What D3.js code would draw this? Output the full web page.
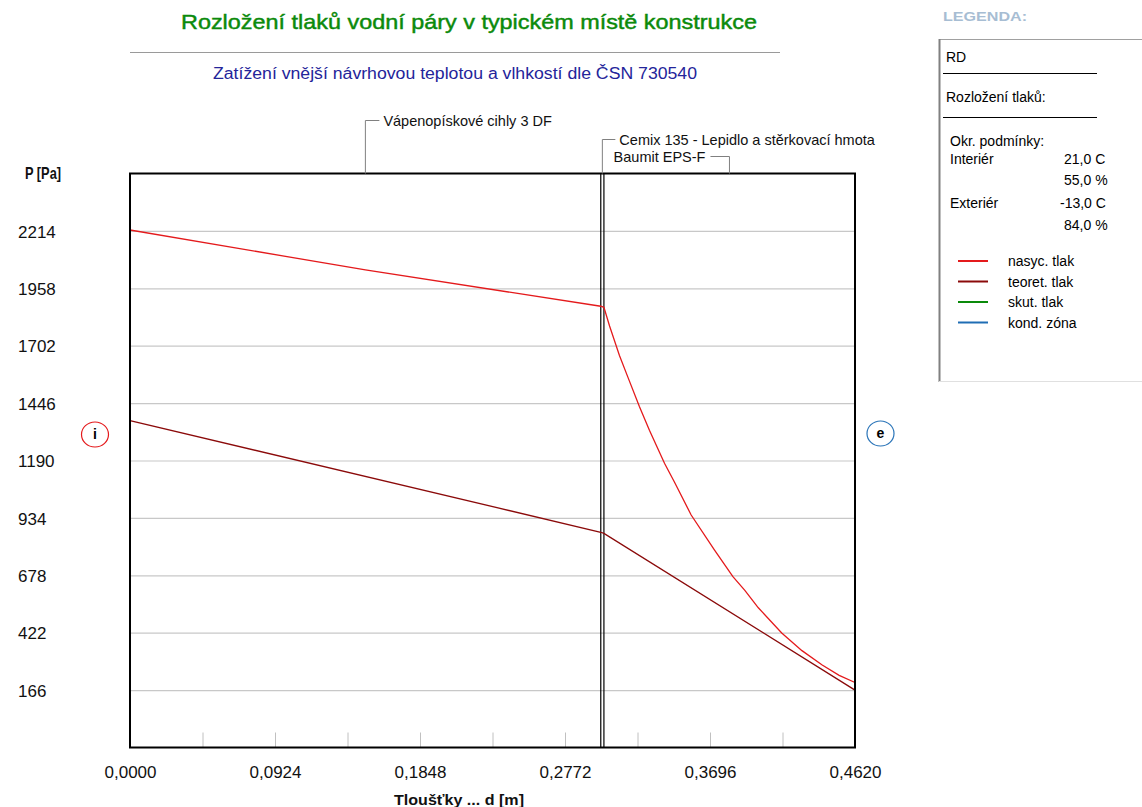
<!DOCTYPE html>
<html>
<head>
<meta charset="utf-8">
<script src="https://cdn.jsdelivr.net/npm/d3@7"></script>
<style>
  body { margin: 0; background: #fff; }
  svg { display: block; font-family: "Liberation Sans", Arial, sans-serif; }
  .narrow { font-family: "Liberation Sans Narrow", "Arial Narrow", "Liberation Sans", sans-serif; font-stretch: condensed; }
</style>
</head>
<body>
<svg id="chart" width="1142" height="807"></svg>
<script>
// Construction layers (thickness boundaries in metres)
const layerNames = ["Vápenopískové cihly 3 DF", "Cemix 135 - Lepidlo a stěrkovací hmota", "Baumit EPS-F"];
const layerEdges = [0, 0.300, 0.302, 0.462];

// Axis ticks
const pTicks = [166, 422, 678, 934, 1190, 1446, 1702, 1958, 2214];
const dTicks = [0, 0.0924, 0.1848, 0.2772, 0.3696, 0.4620];
const dMinor = [0.0462, 0.0924, 0.1386, 0.1848, 0.2310, 0.2772, 0.3234, 0.3696, 0.4158];

// Saturated vapour pressure profile (nasyc. tlak)
const satD = [0, 0.150, 0.300, 0.302, 0.3056, 0.3119, 0.3172, 0.3246, 0.3310, 0.3406, 0.3470,
              0.3576, 0.3725, 0.3842, 0.3918, 0.4004, 0.4153, 0.4282, 0.4411, 0.4519, 0.462];
const satP = [2218, 2040, 1878, 1873, 1790, 1658, 1563, 1431, 1325, 1178, 1093,
              947, 790, 672, 611, 533, 421, 342, 278, 232, 200];

// Theoretical partial vapour pressure profile (teoret. tlak)
const theoD = [0, 0.300, 0.302, 0.462];
const theoP = [1368, 870, 865, 166];

// Legend content
const legendHeader = ["RD", "Rozložení tlaků:"];
const condLabels = ["Interiér", "", "Exteriér", ""];
const condValues = ["21,0 C", "55,0 %", "-13,0 C", "84,0 %"];
const seriesNames = ["nasyc. tlak", "teoret. tlak", "skut. tlak", "kond. zóna"];
const seriesColors = ["#e41a1c", "#8b0a0a", "#0a8a0a", "#1f6db4"];

const svg = d3.select("#chart");

const plot = { left: 130, right: 855, top: 173.5, bottom: 747.5 };
const x = d3.scaleLinear().domain([0, 0.462]).range([plot.left, plot.right]);
const y = d3.scaleLinear().domain([-90, 2470]).range([plot.bottom, plot.top]);

// Titles
svg.append("text").attr("class", "narrow")
  .attr("x", 469).attr("y", 29).attr("text-anchor", "middle")
  .attr("font-size", 21).attr("fill", "#0b8a0b")
  .attr("stroke", "#0b8a0b").attr("stroke-width", 0.45)
  .attr("textLength", 576).attr("lengthAdjust", "spacingAndGlyphs")
  .text("Rozložení tlaků vodní páry v typickém místě konstrukce");
svg.append("line").attr("x1", 130).attr("x2", 780).attr("y1", 52.5).attr("y2", 52.5)
  .attr("stroke", "#9a9a9a").attr("stroke-width", 1);
svg.append("text").attr("class", "narrow")
  .attr("x", 455).attr("y", 79).attr("text-anchor", "middle")
  .attr("font-size", 16).attr("fill", "#24249a")
  .attr("textLength", 484).attr("lengthAdjust", "spacingAndGlyphs")
  .text("Zatížení vnější návrhovou teplotou a vlhkostí dle ČSN 730540");

// Horizontal grid + y labels
const yAxis = svg.append("g").attr("transform", `translate(${plot.left},0)`)
  .call(d3.axisLeft(y).tickValues(pTicks).tickSize(-(plot.right - plot.left)).tickFormat(d3.format("d")));
yAxis.select(".domain").remove();
yAxis.selectAll(".tick line").attr("stroke", "#c8c8c8").attr("stroke-width", 1.2);
yAxis.selectAll(".tick text").attr("text-anchor", "start").attr("x", 18 - plot.left).attr("dy", "0.36em")
  .attr("font-size", 17).attr("fill", "#111").attr("font-family", "'Liberation Sans', Arial, sans-serif");

// Minor ticks along the bottom edge
const minorAxis = svg.append("g").attr("transform", `translate(0,${plot.bottom})`)
  .call(d3.axisTop(x).tickValues(dMinor).tickSize(15).tickFormat(""));
minorAxis.select(".domain").remove();
minorAxis.selectAll(".tick line").attr("stroke", "#c0c0c0");

// X labels
const xAxis = svg.append("g").attr("transform", `translate(0,${plot.bottom})`)
  .call(d3.axisBottom(x).tickValues(dTicks).tickSize(0).tickPadding(18)
    .tickFormat(d => d3.format(".4f")(d).replace(".", ",")));
xAxis.select(".domain").remove();
xAxis.selectAll(".tick text").attr("font-size", 17).attr("fill", "#111")
  .attr("font-family", "'Liberation Sans', Arial, sans-serif");

// Axis titles
svg.append("text").attr("x", 25).attr("y", 179)
  .attr("font-size", 17).attr("font-weight", "bold").attr("fill", "#111")
  .attr("textLength", 36).attr("lengthAdjust", "spacingAndGlyphs").text("P [Pa]");
svg.append("text").attr("class", "narrow")
  .attr("x", 459).attr("y", 805).attr("text-anchor", "middle")
  .attr("font-size", 15).attr("font-weight", "bold").attr("fill", "#111")
  .attr("textLength", 130).attr("lengthAdjust", "spacingAndGlyphs")
  .text("Tloušťky ... d [m]");

// Layer boundary lines (double line for thin middle layer)
svg.append("g").selectAll("line").data(layerEdges.slice(1, -1)).join("line")
  .attr("x1", d => x(d)).attr("x2", d => x(d))
  .attr("y1", plot.top).attr("y2", plot.bottom)
  .attr("stroke", "#000").attr("stroke-width", 1.2);

// Pressure curves
const line = d3.line().x(d => x(d[0])).y(d => y(d[1]));
svg.append("path").datum(theoD.map((d, i) => [d, theoP[i]]))
  .attr("d", line).attr("fill", "none").attr("stroke", seriesColors[1]).attr("stroke-width", 1.3);
svg.append("path").datum(satD.map((d, i) => [d, satP[i]]))
  .attr("d", line).attr("fill", "none").attr("stroke", seriesColors[0]).attr("stroke-width", 1.3);

// Plot frame
svg.append("rect").attr("x", plot.left).attr("y", plot.top)
  .attr("width", plot.right - plot.left).attr("height", plot.bottom - plot.top)
  .attr("fill", "none").attr("stroke", "#000").attr("stroke-width", 2);

// Layer labels with leader lines
const mid = i => x((layerEdges[i] + layerEdges[i + 1]) / 2);
const leaders = svg.append("g").attr("stroke", "#808080").attr("fill", "none").attr("stroke-width", 1);
// layer 1
leaders.append("polyline").attr("points", `${mid(0)},${plot.top} ${mid(0)},120.5 ${mid(0) + 14},120.5`);
svg.append("text").attr("x", mid(0) + 18).attr("y", 126).attr("font-size", 14.5).attr("fill", "#111")
  .text(layerNames[0]);
// layer 2
leaders.append("polyline").attr("points", `${mid(1)},${plot.top} ${mid(1)},139.5 ${mid(1) + 13},139.5`);
svg.append("text").attr("x", mid(1) + 17).attr("y", 144.5).attr("font-size", 14.5).attr("fill", "#111")
  .text(layerNames[1]);
// layer 3
leaders.append("polyline").attr("points", `${mid(2)},${plot.top} ${mid(2)},156.5 ${mid(2) - 19},156.5`);
svg.append("text").attr("x", mid(2) - 24).attr("y", 161.5).attr("text-anchor", "end")
  .attr("font-size", 14.5).attr("fill", "#111").text(layerNames[2]);

// Interior / exterior markers
const marker = (cx, cy, color, label) => {
  svg.append("ellipse").attr("cx", cx).attr("cy", cy).attr("rx", 13.5).attr("ry", 12.5)
    .attr("fill", "none").attr("stroke", color).attr("stroke-width", 1.2);
  svg.append("text").attr("x", cx).attr("y", cy + 4.5).attr("text-anchor", "middle")
    .attr("font-size", 14).attr("font-weight", "bold").attr("fill", "#000").text(label);
};
marker(95, 434.5, "#e41a1c", "i");
marker(880.5, 433.5, "#2a74b8", "e");

// Legend
svg.append("text").attr("x", 943).attr("y", 21).attr("font-size", 13).attr("font-weight", "bold")
  .attr("fill", "#a7bdd3").attr("textLength", 84).attr("lengthAdjust", "spacingAndGlyphs").text("LEGENDA:");
const lg = svg.append("g");
lg.append("line").attr("x1", 939.5).attr("x2", 1142).attr("y1", 39.5).attr("y2", 39.5).attr("stroke", "#a0a0a0");
lg.append("line").attr("x1", 939.5).attr("x2", 939.5).attr("y1", 39).attr("y2", 382).attr("stroke", "#808080").attr("stroke-width", 2);
lg.append("line").attr("x1", 939).attr("x2", 1142).attr("y1", 381.5).attr("y2", 381.5).attr("stroke", "#e0e0e0");
lg.append("text").attr("x", 946).attr("y", 62).attr("font-size", 14).attr("fill", "#000").text(legendHeader[0]);
lg.append("line").attr("x1", 943).attr("x2", 1097).attr("y1", 73.5).attr("y2", 73.5).attr("stroke", "#000");
lg.append("text").attr("x", 946).attr("y", 102).attr("font-size", 14).attr("fill", "#000").text(legendHeader[1]);
lg.append("line").attr("x1", 943).attr("x2", 1097).attr("y1", 117.5).attr("y2", 117.5).attr("stroke", "#000");
lg.append("text").attr("x", 950).attr("y", 146).attr("font-size", 14).attr("fill", "#000").text("Okr. podmínky:");
const condY = [164, 185, 208, 230];
condLabels.forEach((t, i) => {
  if (t) lg.append("text").attr("x", 950).attr("y", condY[i]).attr("font-size", 14).attr("fill", "#000").text(t);
  lg.append("text").attr("x", condValues[i].startsWith("-") ? 1060 : 1064).attr("y", condY[i])
    .attr("font-size", 14).attr("fill", "#000").text(condValues[i]);
});
seriesNames.forEach((name, i) => {
  const yy = 261 + i * 20.5;
  lg.append("line").attr("x1", 958).attr("x2", 988).attr("y1", yy).attr("y2", yy)
    .attr("stroke", seriesColors[i]).attr("stroke-width", 2);
  lg.append("text").attr("x", 1008).attr("y", yy + 5).attr("font-size", 14).attr("fill", "#000").text(name);
});
</script>
</body>
</html>
